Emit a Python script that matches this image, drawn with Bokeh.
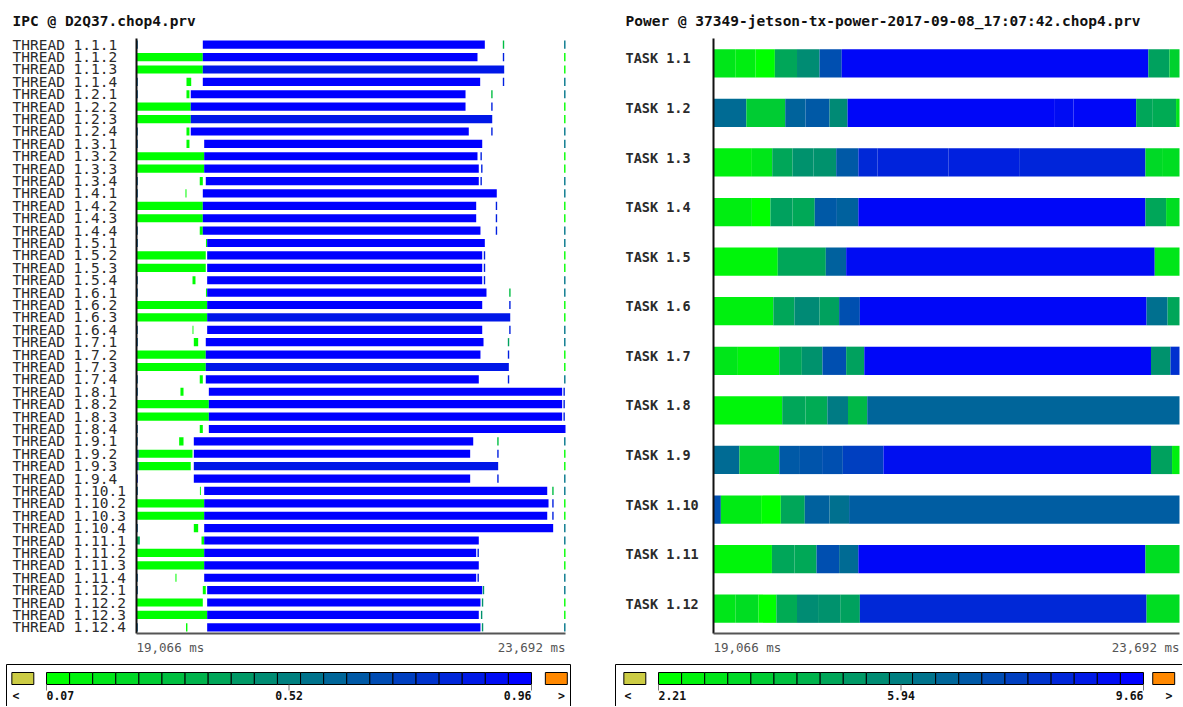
from bokeh.plotting import figure
from bokeh.models import Range1d, ColumnDataSource
from bokeh.transform import linear_cmap
from bokeh.layouts import row
from bokeh.embed import file_html
from bokeh.resources import INLINE
from bokeh.core.properties import value

FONT = "DejaVu Sans Mono"

# ------------------------------------------------------------------ data
T0, T1 = 19066, 23692                      # ms, time window of both views
IPC_LOW, IPC_HIGH = 0.07, 0.96             # IPC colour scale
PW_LOW, PW_HIGH = 2.21, 9.66               # Power colour scale

ipc_title = "IPC @ D2Q37.chop4.prv"
pw_title = "Power @ 37349-jetson-tx-power-2017-09-08_17:07:42.chop4.prv"

thread_labels = [f"THREAD 1.{n}.{k}" for n in range(1, 13) for k in range(1, 5)]
task_labels = [f"TASK 1.{n}" for n in range(1, 13)]

N = None
# tiny burst at trace start (end time) and its IPC
ipc_lead_end = [19080, N, N, 19080,  19080, N, N, 19080,  19080, N, N, 19080,
                19080, N, N, 19080,  19080, N, N, 19080,  19080, N, N, 19080,
                19080, N, N, 19080,  19080, N, N, 19080,  19080, 19091, 19091, 19080,
                19080, N, N, 19080,  19102, N, N, 19080,  19080, N, N, 19080]
ipc_lead_val = [0.62, N, N, 0.62,  0.62, N, N, 0.62,  0.62, N, N, 0.62,
                0.62, N, N, 0.62,  0.62, N, N, 0.62,  0.62, N, N, 0.62,
                0.62, N, N, 0.62,  0.62, N, N, 0.62,  0.62, 0.60, 0.60, 0.85,
                0.62, N, N, 0.62,  0.35, N, N, 0.62,  0.62, N, N, 0.62]
# initial low-IPC phase (ends at)
ipc_init_val = 0.07
ipc_init_end = [N, 19781, 19781, N,  N, 19651, 19651, N,  N, 19796, 19796, N,
                N, 19781, 19781, N,  N, 19813, 19813, N,  N, 19828, 19828, N,
                N, 19813, 19813, N,  N, 19846, 19846, N,  N, 19670, 19651, N,
                N, 19796, 19796, N,  N, 19796, 19796, N,  N, 19781, 19828, N]
# short low-IPC burst
ipc_burst_val = 0.08
ipc_burst_start = [N, N, N, 19605,  19605, N, N, 19605,  19605, N, N, 19748,
                   19594, N, N, 19748,  19815, N, N, 19670,  19815, N, N, 19670,
                   19684, N, N, 19748,  19540, N, N, 19748,  19526, N, N, N,
                   19750, N, N, 19684,  19767, N, N, 19486,  19781, N, N, 19600]
ipc_burst_end = [N, N, N, 19656,  19637, N, N, 19637,  19637, N, N, 19781,
                 19605, N, N, 19781,  19826, N, N, 19702,  19826, N, N, 19680,
                 19731, N, N, 19781,  19573, N, N, 19781,  19573, N, N, N,
                 19760, N, N, 19731,  19796, N, N, 19497,  19813, N, N, 19615]
# main computation phase
ipc_main_start = [19781] * 4 + [19651] * 4 + [19796, 19796, 19796, 19813] + [19781] * 4 \
    + [19828] * 4 + [19828] * 4 + [19813] * 4 + [19846] * 4 + [19684] * 4 \
    + [19796] * 4 + [19796] * 4 + [19828] * 4
ipc_main_end = [22822, 22743, 23031, 22772,  22614, 22614, 22902, 22649,
                22794, 22743, 22757, 22757,  22951, 22729, 22729, 22775,
                22822, 22794, 22794, 22794,  22840, 22794, 23096, 22794,
                22808, 22775, 23081, 22757,  23656, 23656, 23656, 23692,
                22697, 22664, 22966, 22664,  23495, 23509, 23495, 23559,
                22757, 22729, 22757, 22729,  22794, 22775, 22757, 22775]
ipc_main_val = [0.96, 0.96, 0.88, 0.96,  0.96, 0.96, 0.88, 0.96,  0.96, 0.96, 0.96, 0.96,
                0.96, 0.96, 0.96, 0.96,  0.96, 0.96, 0.96, 0.96,  0.96, 0.96, 0.88, 0.96,
                0.96, 0.96, 0.88, 0.96,  0.96, 0.96, 0.96, 0.96,  0.96, 0.96, 0.88, 0.96,
                0.96, 0.96, 0.96, 0.96,  0.96, 0.96, 0.96, 0.96,  0.96, 0.96, 0.96, 0.96]
# short event after the main phase
ipc_mark_t = [23016, 23016, N, 23016,  22891, 22891, N, 22891,  N, 22775, 22782, 22775,
              N, 22940, 22940, 22940,  N, 22811, 22811, 22811,  23085, 23085, N, 23085,
              23070, 23070, N, 23070,  23670, 23670, 23670, N,  22956, 22956, N, 22956,
              23549, 23549, 23549, N,  N, 22743, N, 22743,  22800, 22790, 22780, 22790]
ipc_mark_val = [0.30, 0.85, N, 0.85,  0.30, 0.85, N, 0.85,  N, 0.85, 0.85, 0.85,
                N, 0.85, 0.85, 0.85,  N, 0.85, 0.85, 0.85,  0.30, 0.85, N, 0.85,
                0.40, 0.85, N, 0.85,  0.85, 0.85, 0.85, N,  0.30, 0.85, N, 0.85,
                0.30, 0.85, 0.85, N,  N, 0.85, N, 0.85,  0.45, 0.45, 0.45, 0.45]
# event at the end of the window
ipc_edge_val = [0.55, 0.07, 0.07, 0.55] * 7 + [N, N, N, N] + [0.55, 0.07, 0.07, 0.55] * 4
MARK_MS = 15

# Power: segment edges (ms) and value per segment, one list per task
pw_edges = [
    [19066, 19282, 19484, 19675, 19895, 20119, 20339, 23383, 23592, 23692],
    [19066, 19392, 19778, 19979, 20218, 20397, 22455, 22639, 23262, 23427, 23658, 23692],
    [19066, 19447, 19649, 19851, 20060, 20284, 20504, 20695, 21400, 22100, 23354, 23519, 23692],
    [19066, 19447, 19631, 19851, 20071, 20291, 20504, 23354, 23559, 23692],
    [19066, 19704, 20181, 20383, 23446, 23692],
    [19066, 19660, 19869, 20119, 20313, 20519, 23365, 23574, 23692],
    [19066, 19308, 19719, 19943, 20148, 20383, 20563, 23409, 23603, 23692],
    [19066, 19748, 19979, 20196, 20401, 20592, 23692],
    [19066, 19323, 19719, 19924, 20144, 20350, 20753, 23409, 23618, 23692],
    [19066, 19139, 19539, 19734, 19972, 20218, 20412, 23692],
    [19066, 19646, 19869, 20089, 20313, 20504, 23354, 23692],
    [19066, 19286, 19513, 19690, 19895, 20104, 20324, 20519, 23365, 23692],
]
pw_vals = [
    [2.95, 2.73, 2.21, 4.82, 5.56, 7.35, 9.44, 4.97, 3.55],
    [6.53, 3.70, 6.75, 7.05, 5.64, 9.44, 9.30, 9.44, 4.82, 4.67, 2.95],
    [2.65, 2.95, 4.82, 5.41, 5.41, 7.05, 8.47, 8.62, 8.70, 8.58, 3.33, 3.22],
    [2.73, 2.21, 4.95, 4.75, 7.05, 6.83, 9.44, 4.82, 3.22],
    [2.51, 4.82, 6.83, 9.30, 2.95],
    [2.65, 4.82, 5.64, 4.97, 7.35, 9.44, 6.38, 4.82],
    [2.95, 2.51, 4.82, 5.41, 7.35, 4.97, 9.44, 5.41, 8.25],
    [2.51, 4.82, 4.67, 6.08, 4.30, 6.70],
    [6.53, 3.70, 7.05, 7.20, 7.35, 7.80, 9.21, 4.97, 2.65],
    [7.35, 2.81, 2.21, 4.82, 6.83, 6.38, 6.95],
    [2.51, 4.82, 4.75, 7.35, 6.53, 9.44, 3.22],
    [2.95, 3.22, 2.21, 4.67, 5.56, 5.41, 4.97, 8.47, 3.22],
]

# ------------------------------------------------------------------ colours
PALETTE = ["#%02x%02x%02x" % (0, round(255 * (1 - k / 255)), round(255 * k / 255)) for k in range(256)]
LOW_COLOR, HIGH_COLOR = "#cccc44", "#ff8800"


def cmap(low, high):
    return linear_cmap("v", PALETTE, low, high, low_color=LOW_COLOR, high_color=HIGH_COLOR)


# ------------------------------------------------------------------ segments
def seg_source(rows, s, e, v, half):
    return ColumnDataSource(dict(left=s, right=e, v=v,
                                 top=[r + 0.5 - half for r in rows],
                                 bottom=[r + 0.5 + half for r in rows]))


r_, s_, e_, v_ = [], [], [], []


def seg(i, a, b, val):
    r_.append(i); s_.append(a); e_.append(b); v_.append(val)


for i in range(len(thread_labels)):
    start = T0
    if ipc_lead_end[i] is not None:
        seg(i, T0, ipc_lead_end[i], ipc_lead_val[i])
        start = ipc_lead_end[i]
    if ipc_init_end[i] is not None:
        seg(i, start, ipc_init_end[i], ipc_init_val)
    if ipc_burst_start[i] is not None:
        seg(i, ipc_burst_start[i], ipc_burst_end[i], ipc_burst_val)
    seg(i, ipc_main_start[i], ipc_main_end[i], ipc_main_val[i])
    if ipc_mark_t[i] is not None:
        seg(i, ipc_mark_t[i], ipc_mark_t[i] + MARK_MS, ipc_mark_val[i])
    if ipc_edge_val[i] is not None:
        seg(i, T1 - MARK_MS, T1, ipc_edge_val[i])
ipc_src = seg_source(r_, s_, e_, v_, 0.33)

r_, s_, e_, v_ = [], [], [], []
for i in range(len(task_labels)):
    ed, vals = pw_edges[i], pw_vals[i]
    for k in range(len(vals)):
        seg(i, ed[k], ed[k + 1], vals[k])
pw_src = seg_source(r_, s_, e_, v_, 0.285)

# ------------------------------------------------------------------ layout (page pixels)
H = 706
ROW_TOP, ROW_BOTTOM = 38, 633          # timeline frame, vertical extent
TITLE_Y, TIME_Y = 20, 647
LEG_TOP, SW_TOP, SW_BOT, TICK_BOT, LEG_TEXT_Y = 664, 672, 684, 690, 695


def panel(px0, width, t_px0, t_px1, labels, title, label_x, lab_size, lab_style, lab_shift,
          src, half, low, high, leg_box, leg_px0, leg_unit, gt_left):
    n = len(labels)
    mpp = (T1 - T0) / (t_px1 - t_px0)
    pitch = (ROW_BOTTOM - ROW_TOP) / n
    p = figure(width=width, height=H, title=None,
               x_axis_location=None, y_axis_location=None,
               x_range=Range1d(T0 - (t_px0 - px0) * mpp, T0 + (px0 + width - t_px0) * mpp),
               y_range=Range1d(n + (H - ROW_BOTTOM) / pitch, -ROW_TOP / pitch),
               min_border=0, output_backend="svg", toolbar_location=None)
    p.extra_x_ranges = {"px": Range1d(px0, px0 + width),
                        "leg": Range1d((px0 - leg_px0) / leg_unit, (px0 + width - leg_px0) / leg_unit)}
    p.extra_y_ranges = {"px": Range1d(H, 0)}
    p.grid.visible = False
    p.outline_line_color = None
    p.background_fill_color = "white"
    p.border_fill_color = "white"

    # timeline bars
    p.quad(left="left", right="right", top="top", bottom="bottom", source=src,
           fill_color=cmap(low, high), line_color=None)
    # axes lines
    p.segment(x0=[T0], y0=[0], x1=[T0], y1=[n], line_color="#111111", line_width=2)
    p.segment(x0=[T0], y0=[n], x1=[T1], y1=[n], line_color="#555555", line_width=2)

    # title
    p.text(x=[label_x], y=[TITLE_Y], text=[title], x_range_name="px", y_range_name="px",
           text_font=value(FONT), text_font_size="14.5px", text_font_style="bold",
           text_color="#111111", text_align="left", text_baseline="middle")
    # row labels
    p.text(x=[label_x] * n, y=[i + 0.5 - lab_shift for i in range(n)], text=labels,
           x_range_name="px", text_font=value(FONT), text_font_size=lab_size,
           text_font_style=lab_style, text_color="#2b2b2b", text_align="left",
           text_baseline="middle")
    # time labels
    tcommon = dict(y_range_name="px", text_font=value(FONT), text_font_size="12.5px",
                   text_color="#555555", text_baseline="middle")
    p.text(x=[T0], y=[TIME_Y], text=[f"{T0:,} ms"], text_align="left", **tcommon)
    p.text(x=[T1], y=[TIME_Y], text=[f"{T1:,} ms"], text_align="right", **tcommon)

    # colour legend
    p.quad(left=[leg_box[0]], right=[leg_box[1]], top=[LEG_TOP], bottom=[H + 20],
           x_range_name="px", y_range_name="px", fill_color=None,
           line_color="black", line_width=1)
    step = (high - low) / 20
    lefts = [-1.5] + list(range(21)) + [gt_left]
    vals = [low - step] + [low + step * i for i in range(21)] + [high + step]
    lsrc = ColumnDataSource(dict(left=lefts, right=[x + (0.95 if j in (0, 22) else 1)
                                                    for j, x in enumerate(lefts)],
                                 v=vals, top=[SW_TOP] * 23, bottom=[SW_BOT] * 23))
    p.quad(left="left", right="right", top="top", bottom="bottom", source=lsrc,
           x_range_name="leg", y_range_name="px",
           fill_color=cmap(low, high), line_color="black", line_width=1)
    p.segment(x0=[0, 10.5, 21], y0=[SW_BOT] * 3, x1=[0, 10.5, 21], y1=[TICK_BOT] * 3,
              x_range_name="leg", y_range_name="px", line_color="#777777", line_width=1)
    mid = (low + high) / 2
    lcommon = dict(x_range_name="leg", y_range_name="px", text_font=value(FONT),
                   text_font_size="11.5px", text_font_style="bold",
                   text_color="#111111", text_baseline="middle")
    p.text(x=[0], y=[LEG_TEXT_Y], text=[f"{low:.2f}"], text_align="left", **lcommon)
    p.text(x=[-1.32, 10.5, gt_left + 0.7], y=[LEG_TEXT_Y] * 3,
           text=["<", f"{mid + 1e-9:.2f}", ">"], text_align="center", **lcommon)
    p.text(x=[21], y=[LEG_TEXT_Y], text=[f"{high:.2f}"], text_align="right", **lcommon)
    return p


pL = panel(0, 600, 136, 565, thread_labels, ipc_title, 12, "14.5px", "normal", 0.0,
           ipc_src, 0.33, IPC_LOW, IPC_HIGH, (6, 570), 46, 485 / 21, 21.6)
pR = panel(600, 582, 713, 1179, task_labels, pw_title, 625, "13.5px", "bold", 0.1,
           pw_src, 0.285, PW_LOW, PW_HIGH, (615, 1200), 658, 485 / 21, 21.4)

layout = row(pL, pR)

open("out.html", "w").write(file_html(layout, INLINE))
